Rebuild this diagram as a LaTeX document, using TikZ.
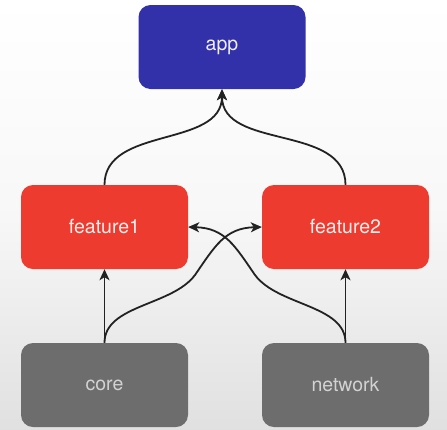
\documentclass[tikz,border=0pt]{standalone}
\usepackage{fontspec}
\setmainfont{TeX Gyre Heros}
\usetikzlibrary{arrows.meta}
\definecolor{appblue}{HTML}{3331A9}
\definecolor{featred}{HTML}{EE3B2F}
\definecolor{basegray}{HTML}{6D6D6D}
\definecolor{basetext}{HTML}{D2D2D2}
\definecolor{linek}{HTML}{222222}
\begin{document}
\begin{tikzpicture}[x=1pt,y=-1pt,
  module/.style={rounded corners=12pt, minimum width=167pt, minimum height=84pt,
    inner sep=0pt, text=white, font=\fontsize{19.5}{22}\selectfont},
  appbox/.style={module, fill=appblue, text=white!92!appblue},
  featbox/.style={module, fill=featred, text=white!92!featred},
  basebox/.style={module, fill=basegray, text=basetext},
  dep/.style={draw=linek, line width=1.8pt,
    -{Stealth[length=11pt,width=10pt,inset=3pt]}}]
  % background
  \shade[top color=white, bottom color=black!12, middle color=white!97!black]
    (0,0) rectangle (447,429);
  \useasboundingbox (0,0) rectangle (447,429);
  % modules
  \node[appbox]  (app)  at (222,47)    {app};
  \node[featbox] (f1)   at (104.5,227) {feature1};
  \node[featbox] (f2)   at (345.5,227) {feature2};
  \node[basebox] (core) at (104.5,385) {core};
  \node[basebox] (net)  at (345.5,385) {network};
  % dependencies
  \draw[dep] (f1.north) to[out=90,in=-90] (app.south);
  \draw[dep] (f2.north) to[out=90,in=-90] (app.south);
  \draw[dep] (core.north) -- (f1.south);
  \draw[dep] (net.north) -- (f2.south);
  \draw[dep] (core.north) .. controls +(0,-38) and (172,306) .. (195,275)
    .. controls (215,246) and (225,228) .. (f2.west);
  \draw[dep] (net.north) .. controls +(0,-38) and (278,306) .. (255,275)
    .. controls (235,246) and (225,228) .. (f1.east);
\end{tikzpicture}
\end{document}
